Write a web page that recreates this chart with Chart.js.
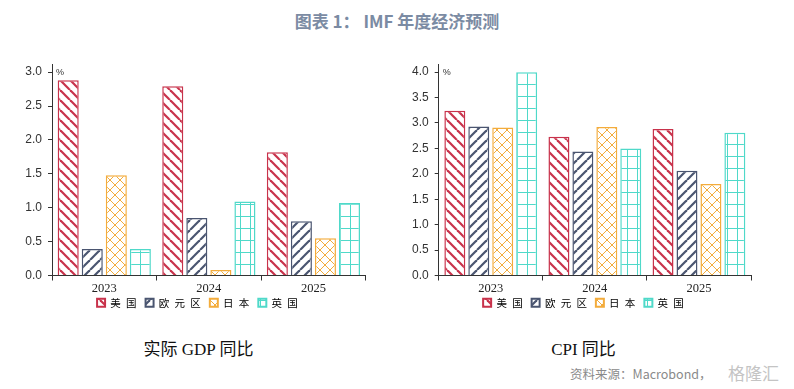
<!DOCTYPE html>
<html>
<head>
<meta charset="utf-8">
<script src="https://cdn.jsdelivr.net/npm/chart.js@4.4.0/dist/chart.umd.min.js"></script>
<style>
  body { margin: 0; background: #fff; width: 794px; height: 389px; position: relative; overflow: hidden; }
  .box { position: absolute; top: 0; width: 397px; height: 331px; }
  .txt { position: absolute; white-space: nowrap; }
  #title { left: 0; width: 794px; top: 8px; text-align: center; font: bold 17px "Noto Sans CJK SC", sans-serif; color: #7b8ba3; }
  .cap { top: 335px; width: 397px; text-align: center; font: 17px "Liberation Serif", "Noto Sans CJK SC", serif; color: #111; }
  #src { left: 570px; top: 364px; font: 12.5px "Noto Sans CJK SC", sans-serif; color: #8a8a8a; }
  #wm { left: 728px; top: 360px; font: 17px "Noto Sans CJK SC", sans-serif; color: #c4c4c4; }
</style>
</head>
<body>
<div id="title" class="txt">图表 1： IMF 年度经济预测</div>
<div class="box" style="left:0"><canvas id="gdp" width="397" height="331"></canvas></div>
<div class="box" style="left:397px"><canvas id="cpi" width="397" height="331"></canvas></div>
<div class="txt cap" style="left:0">实际 GDP 同比</div>
<div class="txt cap" style="left:385px">CPI 同比</div>
<div id="src" class="txt">资料来源：Macrobond，</div>
<div id="wm" class="txt">格隆汇</div>

<script>
// data
const years = ['2023', '2024', '2025'];
const regions = ['美国', '欧元区', '日本', '英国'];

const gdpUS = [2.88, 2.79, 1.82];
const gdpEA = [0.39, 0.85, 0.80];
const gdpJP = [1.48, 0.08, 0.55];
const gdpUK = [0.39, 1.09, 1.07];

const cpiUS = [3.24, 2.73, 2.88];
const cpiEA = [2.93, 2.44, 2.06];
const cpiJP = [2.91, 2.92, 1.80];
const cpiUK = [4.00, 2.50, 2.81];

const gdpTicks = [0, 0.5, 1.0, 1.5, 2.0, 2.5, 3.0];
const cpiTicks = [0, 0.5, 1.0, 1.5, 2.0, 2.5, 3.0, 3.5, 4.0];

const colors = ['#c8324b', '#4a5570', '#f3ac3c', '#4fd9c9'];

// fill patterns
function makePattern(color, kind) {
    const c = document.createElement('canvas');
    const w = 10;
    const h = kind === 'grid' ? 12 : 10;
    c.width = w; c.height = h;
    const g = c.getContext('2d');
    g.fillStyle = '#fff';
    g.fillRect(0, 0, w, h);
    g.strokeStyle = color;
    if (kind === 'grid') {
        g.lineWidth = 1;
        g.beginPath();
        g.moveTo(0.5, 0); g.lineTo(0.5, h);
        g.moveTo(0, 0.5); g.lineTo(w, 0.5);
        g.stroke();
    } else {
        g.lineWidth = kind === 'cross' ? 1 : 2.2;
        const dirs = kind === 'cross' ? ['back', 'fwd'] : [kind];
        dirs.forEach(d => {
            for (let x0 = -w; x0 <= w; x0 += w) {
                g.beginPath();
                if (d === 'back') { g.moveTo(x0, 0); g.lineTo(x0 + w, h); }
                else { g.moveTo(x0, h); g.lineTo(x0 + w, 0); }
                g.stroke();
            }
        });
    }
    return g.createPattern(c, 'repeat');
}
const kinds = ['back', 'fwd', 'cross', 'grid'];
const patterns = colors.map((c, i) => makePattern(c, kinds[i]));

const percentPlugin = {
    id: 'percent',
    afterDraw(chart) {
        const ctx = chart.ctx;
        const y = chart.scales.y;
        const top = y.getPixelForValue(y.ticks[y.ticks.length - 1].value);
        ctx.save();
        ctx.font = '9px "Liberation Sans", sans-serif';
        ctx.fillStyle = '#333';
        ctx.textBaseline = 'middle';
        ctx.fillText('%', chart.chartArea.left + 4, top);
        ctx.restore();
    }
};

// nudge the legend so it sits where the original has it
const legendShift = {
    id: 'legendShift',
    afterLayout(chart, args, opts) {
        const lg = chart.legend;
        lg.left += opts.dx;
        lg.right += opts.dx;
        lg.top -= opts.dy;
        lg.bottom -= opts.dy;
    }
};

function makeChart(id, series, ticks, yMax, yWidth, padR, dx) {
    const datasets = series.map((vals, i) => ({
        label: regions[i].split('').join('\u2002'),
        data: vals,
        backgroundColor: patterns[i],
        borderColor: colors[i],
        borderWidth: 1.5,
        categoryPercentage: 0.92,
        barPercentage: 0.875
    }));
    return new Chart(document.getElementById(id), {
        type: 'bar',
        data: { labels: years, datasets: datasets },
        plugins: [percentPlugin, legendShift],
        options: {
            responsive: false,
            animation: false,
            layout: { padding: { top: 64, left: 0, right: padR, bottom: 4 } },
            plugins: {
                tooltip: { enabled: false },
                legendShift: { dx: dx, dy: 9 },
                legend: {
                    position: 'bottom',
                    labels: {
                        boxWidth: 8,
                        boxHeight: 8,
                        padding: 9,
                        color: '#222',
                        font: { family: '"Noto Sans CJK SC", sans-serif', size: 10.5 },
                        generateLabels(chart) {
                            return chart.data.datasets.map((ds, i) => ({
                                text: ds.label,
                                fillStyle: ds.backgroundColor,
                                strokeStyle: ds.borderColor,
                                lineWidth: 2,
                                datasetIndex: i
                            }));
                        }
                    }
                }
            },
            scales: {
                x: {
                    offset: true,
                    grid: { offset: true, drawOnChartArea: false, color: '#333', tickLength: 5 },
                    border: { color: '#333', width: 1 },
                    ticks: { color: '#222', padding: 1, font: { family: '"Liberation Serif", serif', size: 12.5 } }
                },
                y: {
                    min: 0,
                    max: yMax,
                    grid: { drawOnChartArea: false, color: '#333', tickLength: 4 },
                    border: { color: '#333', width: 1 },
                    ticks: {
                        color: '#333',
                        padding: 6,
                        font: { family: '"Liberation Sans", sans-serif', size: 12 },
                        callback: v => v.toFixed(1)
                    },
                    afterBuildTicks(scale) { scale.ticks = ticks.map(v => ({ value: v })); },
                    afterFit(scale) { scale.width = yWidth; }
                }
            }
        }
    });
}

makeChart('gdp', [gdpUS, gdpEA, gdpJP, gdpUK], gdpTicks, 3.12, 52, 31.3, 14.6);
makeChart('cpi', [cpiUS, cpiEA, cpiJP, cpiUK], cpiTicks, 4.16, 41.7, 43, 9.5);
</script>
</body>
</html>
